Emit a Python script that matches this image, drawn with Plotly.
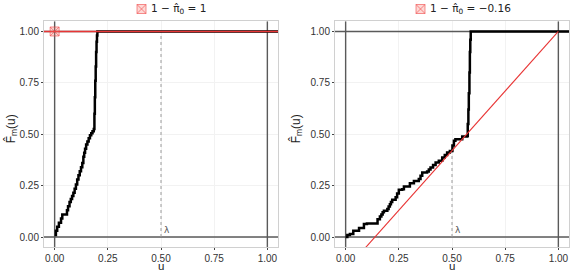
import numpy as np
import plotly.graph_objects as go

# ---- data ----
lam = 0.5
pi0_hat = [0.0, 1.16]                   # 1 - pi0_hat = 1 and -0.16
legend_labels = ["1 − π̂<sub>0</sub> = 1", "1 − π̂<sub>0</sub> = −0.16"]

left_u = [0.000, 0.006, 0.012, 0.020, 0.030, 0.036, 0.058, 0.063, 0.070, 0.076,
          0.082, 0.088, 0.094, 0.100, 0.106, 0.112, 0.118, 0.124, 0.130, 0.135,
          0.139, 0.143, 0.148, 0.154, 0.160, 0.166, 0.172, 0.178, 0.184, 0.187,
          0.189, 0.191, 0.193, 0.195, 0.197, 0.199, 0.201]
left_F = [0.010, 0.030, 0.050, 0.070, 0.090, 0.110, 0.130, 0.150, 0.170, 0.185,
          0.200, 0.215, 0.235, 0.255, 0.280, 0.300, 0.320, 0.340, 0.360, 0.390,
          0.410, 0.430, 0.450, 0.465, 0.480, 0.495, 0.505, 0.515, 0.525, 0.600,
          0.680, 0.760, 0.830, 0.900, 0.950, 0.980, 1.000]

right_u = [0.000, 0.008, 0.020, 0.036, 0.063, 0.086, 0.100, 0.150, 0.161, 0.168,
           0.174, 0.180, 0.196, 0.202, 0.208, 0.213, 0.219, 0.235, 0.242, 0.250,
           0.266, 0.274, 0.302, 0.321, 0.344, 0.352, 0.360, 0.383, 0.391, 0.399,
           0.411, 0.423, 0.438, 0.454, 0.466, 0.477, 0.490, 0.502, 0.509, 0.516,
           0.548, 0.571, 0.574, 0.577, 0.579, 0.582, 0.584, 0.586, 0.588]
right_F = [0.000, 0.010, 0.015, 0.031, 0.044, 0.063, 0.066, 0.087, 0.100, 0.110,
           0.120, 0.128, 0.136, 0.148, 0.160, 0.170, 0.181, 0.193, 0.212, 0.230,
           0.233, 0.246, 0.262, 0.273, 0.282, 0.298, 0.314, 0.319, 0.328, 0.338,
           0.350, 0.362, 0.371, 0.387, 0.399, 0.411, 0.419, 0.445, 0.468, 0.476,
           0.489, 0.492, 0.550, 0.620, 0.700, 0.800, 0.900, 0.960, 1.000]

tick_vals = [0, 0.25, 0.5, 0.75, 1.0]
tick_text = ["0.00", "0.25", "0.50", "0.75", "1.00"]

# ---- figure ----
W, H = 573, 273
xdomains = [[44 / W, 278 / W], [335 / W, 569 / W]]
ydomain = [(H - 247.3) / H, (H - 21.2) / H]

fig = go.Figure()
panels = [(left_u, left_F), (right_u, right_F)]
axis_font = dict(family="Liberation Sans, Arial, sans-serif", size=10, color="#333333")

key_fill = "rgba(248,118,109,0.28)"
key_line = "rgba(240,70,70,0.6)"

for i, (u, F) in enumerate(panels):
    xa = "x" if i == 0 else "x2"
    ya = "y" if i == 0 else "y2"
    ref = dict(xaxis=xa, yaxis=ya, showlegend=False, hoverinfo="skip")
    # reference lines
    for yv in [0, 1]:
        fig.add_trace(go.Scatter(x=[-0.05, 1.05], y=[yv, yv], mode="lines",
                                 line=dict(color="#5a5a5a", width=1.4), **ref))
    for xv in [0, 1]:
        fig.add_trace(go.Scatter(x=[xv, xv], y=[-0.05, 1.05], mode="lines",
                                 line=dict(color="#5a5a5a", width=1.4), **ref))
    # lambda dotted line up to ECDF value at lambda
    u_arr = np.array(u)
    F_arr = np.array(F)
    F_lam = F_arr[u_arr <= lam][-1]
    fig.add_trace(go.Scatter(x=[lam, lam], y=[0, F_lam], mode="lines",
                             line=dict(color="#9a9a9a", width=1, dash="dot"), **ref))
    # ECDF
    ux = list(u) + [1.06]
    fy = list(F) + [F[-1]]
    fig.add_trace(go.Scatter(x=ux, y=fy, mode="lines", line_shape="hv",
                             line=dict(color="black", width=2.5), **ref))
    # red line: 1 - pi0 + pi0 * u
    p = pi0_hat[i]
    xr = [-0.05, 1.05] if p == 0 else [0.0, 1.0]
    yr = [1 - p + p * xv for xv in xr]
    fig.add_trace(go.Scatter(x=xr, y=yr, mode="lines",
                             line=dict(color="#E83535", width=1.3 if p == 0 else 1.1),
                             **ref))
    # point at (0, 1 - pi0)
    fig.add_trace(go.Scatter(x=[0], y=[1 - p], mode="markers",
                             marker=dict(symbol="square-x", size=9, color=key_fill,
                                         line=dict(color=key_line, width=1)),
                             **ref))
    # lambda label
    fig.add_annotation(x=lam, y=0.0, xref=xa, yref=ya, text="λ", showarrow=False,
                       xanchor="left", yanchor="bottom", xshift=1, yshift=0,
                       font=dict(family="DejaVu Sans", size=9, color="#555555"))

axis_common = dict(range=[-0.05, 1.05], tickvals=tick_vals, ticktext=tick_text,
                   showgrid=True, gridcolor="#F2F2F2", gridwidth=1, zeroline=False,
                   showline=True, linecolor="#D0D0D0", linewidth=1, mirror=True,
                   ticks="outside", ticklen=2, tickcolor="#444444", tickfont=axis_font)

fig.update_layout(
    width=W, height=H, margin=dict(l=0, r=0, t=0, b=0),
    paper_bgcolor="white", plot_bgcolor="white", showlegend=False,
    xaxis=dict(domain=xdomains[0], anchor="y", **axis_common),
    yaxis=dict(domain=ydomain, anchor="x", **axis_common),
    xaxis2=dict(domain=xdomains[1], anchor="y2", **axis_common),
    yaxis2=dict(domain=ydomain, anchor="x2", **axis_common),
)

# legend-like keys and labels above each panel
key_left_px = [137, 416]
for i in range(2):
    x0 = key_left_px[i]
    x1 = x0 + 9
    y0, y1 = 4.5, 13.5
    fig.add_shape(type="rect", xref="paper", yref="paper",
                  x0=x0 / W, x1=x1 / W, y0=(H - y1) / H, y1=(H - y0) / H,
                  fillcolor=key_fill, line=dict(color=key_line, width=1))
    fig.add_shape(type="line", xref="paper", yref="paper",
                  x0=x0 / W, x1=x1 / W, y0=(H - y1) / H, y1=(H - y0) / H,
                  line=dict(color=key_line, width=1))
    fig.add_shape(type="line", xref="paper", yref="paper",
                  x0=x0 / W, x1=x1 / W, y0=(H - y0) / H, y1=(H - y1) / H,
                  line=dict(color=key_line, width=1))
    fig.add_annotation(x=(x1 + 3) / W, y=(H - 9) / H, xref="paper", yref="paper",
                       text=legend_labels[i], showarrow=False, xanchor="left",
                       yanchor="middle",
                       font=dict(family="DejaVu Sans", size=10.5, color="#222222"))

title_font = dict(family="Liberation Sans, Arial, sans-serif", size=12, color="#222222")
for i in range(2):
    cx = (xdomains[i][0] + xdomains[i][1]) / 2
    fig.add_annotation(x=cx, y=0, xref="paper", yref="paper", text="u",
                       showarrow=False, xanchor="center", yanchor="bottom",
                       borderpad=0, font=dict(family="Liberation Sans, Arial, sans-serif",
                                              size=11.5, color="#222222"))
    ty = (ydomain[0] + ydomain[1]) / 2 + 5 / H
    tx = [11 / W, 296 / W][i]
    fig.add_annotation(x=tx, y=ty, xref="paper", yref="paper",
                       text="F̂<sub>m</sub>(u)", textangle=-90, showarrow=False,
                       xanchor="center", yanchor="middle", borderpad=0, font=title_font)

fig.write_html("out.html")
